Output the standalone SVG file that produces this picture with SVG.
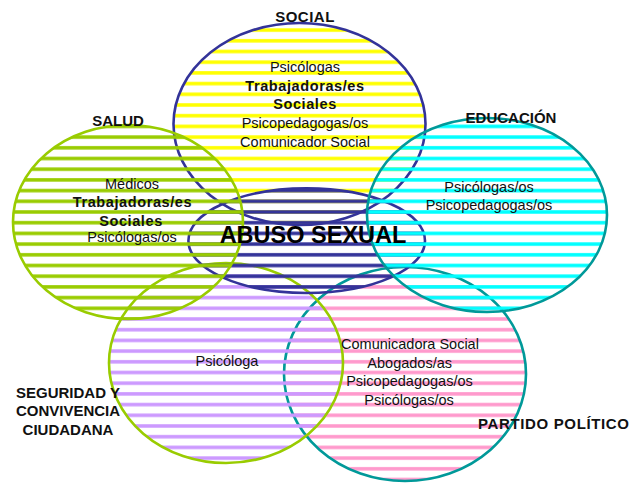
<svg xmlns="http://www.w3.org/2000/svg" width="631" height="483" viewBox="0 0 631 483">
<defs>
<pattern id="pYellow" patternUnits="userSpaceOnUse" width="631" height="10.7"><rect x="0" y="6.95" width="631" height="3.5" fill="#FFFF00"/></pattern>
<pattern id="pGreen" patternUnits="userSpaceOnUse" width="631" height="10.7"><rect x="0" y="6.95" width="631" height="3.5" fill="#99CC00"/></pattern>
<pattern id="pCyan" patternUnits="userSpaceOnUse" width="631" height="10.7"><rect x="0" y="6.95" width="631" height="3.5" fill="#00FFFF"/></pattern>
<pattern id="pNavy" patternUnits="userSpaceOnUse" width="631" height="10.7"><rect x="0" y="6.95" width="631" height="3.5" fill="#333399"/></pattern>
<pattern id="pLilac" patternUnits="userSpaceOnUse" width="631" height="10.7"><rect x="0" y="6.95" width="631" height="3.5" fill="#CC99FF"/></pattern>
<pattern id="pPink" patternUnits="userSpaceOnUse" width="631" height="10.7"><rect x="0" y="6.95" width="631" height="3.5" fill="#FF99CC"/></pattern>
</defs>
<style>
.e{stroke-width:2.6}
.t{font-family:"Liberation Sans",Arial,sans-serif;font-size:14.5px;fill:#111;text-anchor:middle}
.b{font-weight:bold;letter-spacing:0.6px}
.h{font-family:"Liberation Sans",Arial,sans-serif;font-size:15px;font-weight:bold;fill:#111}
.big{font-family:"Liberation Sans",Arial,sans-serif;font-size:23.5px;font-weight:bold;fill:#000;text-anchor:middle}
</style>
<rect width="631" height="483" fill="#fff"/>
<g id="partido">
<ellipse class="e" cx="405" cy="374" rx="121" ry="107" fill="url(#pPink)" stroke="#009999"/>
</g>
<g id="seguridad">
<ellipse class="e" cx="226" cy="363" rx="117" ry="100" fill="url(#pLilac)" stroke="#99CC00"/>
</g>
<g id="social">
<ellipse class="e" cx="299.5" cy="124" rx="126" ry="101" fill="url(#pYellow)" stroke="#333399"/>
</g>
<g id="abuso">
<ellipse class="e" cx="306.7" cy="240.7" rx="118.3" ry="52.3" fill="url(#pNavy)" stroke="#333399"/>
</g>
<g id="salud">
<ellipse class="e" cx="128" cy="222" rx="115" ry="97" fill="url(#pGreen)" stroke="#99CC00"/>
</g>
<g id="educacion">
<ellipse class="e" cx="487" cy="215" rx="120" ry="97" fill="url(#pCyan)" stroke="#009999"/>
</g>
<g id="connectors"></g>
<g id="labels">
<text class="h" x="305" y="22" text-anchor="middle" letter-spacing="0.5">SOCIAL</text>
<text class="t" x="305" y="71.7">Psicólogas</text>
<text class="t b" x="305" y="90.7">Trabajadoras/es</text>
<text class="t b" x="305" y="109.3">Sociales</text>
<text class="t" x="305" y="127.7">Psicopedagogas/os</text>
<text class="t" x="305" y="146.7">Comunicador Social</text>

<text class="h" x="118" y="126" text-anchor="middle">SALUD</text>
<text class="t" x="132" y="189.3">Médicos</text>
<text class="t b" x="132.5" y="207.3">Trabajadoras/es</text>
<text class="t b" x="131" y="226">Sociales</text>
<text class="t" x="132" y="241.7">Psicólogas/os</text>

<text class="h" x="511" y="122.7" text-anchor="middle">EDUCACIÓN</text>
<text class="t" x="489" y="191.7">Psicólogas/os</text>
<text class="t" x="489" y="210">Psicopedagogas/os</text>

<text class="big" x="313" y="242.7">ABUSO SEXUAL</text>

<text class="h" x="68" y="397.7" text-anchor="middle">SEGURIDAD Y</text>
<text class="h" x="68" y="416" text-anchor="middle">CONVIVENCIA</text>
<text class="h" x="68" y="434.7" text-anchor="middle">CIUDADANA</text>
<text class="t" x="227" y="365.7">Psicóloga</text>

<text class="t" x="410" y="349.3">Comunicadora Social</text>
<text class="t" x="409.7" y="367.7">Abogados/as</text>
<text class="t" x="409.5" y="386">Psicopedagogas/os</text>
<text class="t" x="409" y="405">Psicólogas/os</text>
<text class="h" x="478" y="429.3" textLength="151" lengthAdjust="spacing">PARTIDO POLÍTICO</text>
</g>
</svg>
